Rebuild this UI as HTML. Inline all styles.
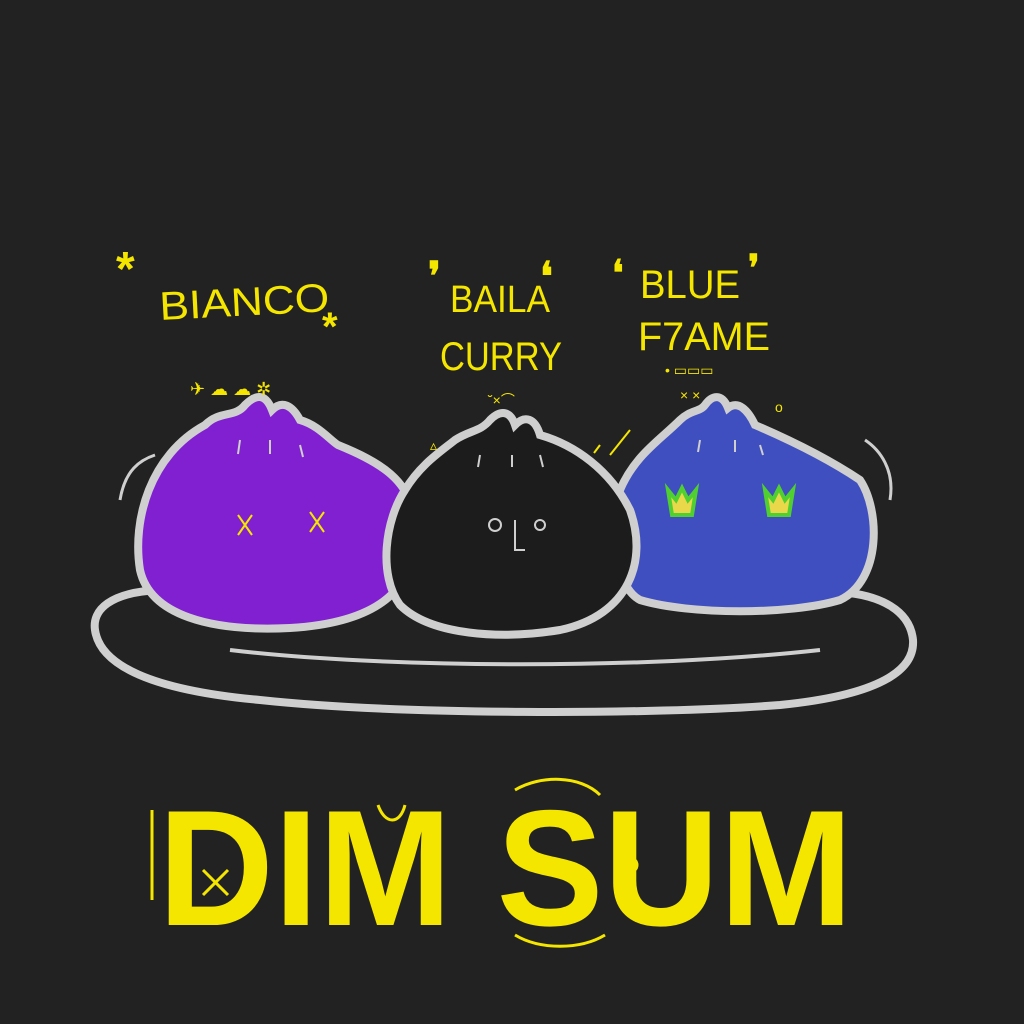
<!DOCTYPE html>
<html><head><style>
html,body{margin:0;padding:0;background:#222222;}
svg{display:block}
text{font-family:"Liberation Sans",sans-serif;fill:#f5e600}
</style></head><body>
<svg width="1024" height="1024" viewBox="0 0 1024 1024" xmlns="http://www.w3.org/2000/svg">
<rect width="1024" height="1024" fill="#222222"/>
<!-- plate -->
<path d="M160 590 C110 592 92 610 95 630 C100 665 150 690 260 700 C400 715 650 715 780 705 C880 695 915 670 913 640 C910 610 880 595 840 592" fill="none" stroke="#cfcfcf" stroke-width="8"/>
<path d="M230 650 C380 668 640 670 820 650" fill="none" stroke="#cfcfcf" stroke-width="4"/>
<!-- purple dumpling -->
<path d="M205 425 C220 410 235 418 245 405 C255 395 265 392 272 410 C282 400 292 405 300 420 C318 425 330 440 338 445 C380 462 410 480 415 520 C420 580 390 622 290 628 C210 632 150 615 140 570 C132 520 150 455 205 425 Z" fill="#8020d0" stroke="#cfcfcf" stroke-width="8"/>
<!-- blue dumpling -->
<path d="M680 420 C690 410 700 412 705 405 C712 395 722 393 728 408 C738 400 748 410 755 425 C790 440 830 460 860 480 C880 510 882 580 840 600 C790 615 690 615 640 600 C612 585 610 520 620 490 C635 455 660 440 680 420 Z" fill="#3f4fbf" stroke="#cfcfcf" stroke-width="8"/>
<!-- black dumpling -->
<path d="M455 440 C470 430 480 432 490 420 C500 410 510 410 515 425 C525 415 535 418 540 435 C575 445 610 470 630 510 C648 560 630 615 560 630 C500 640 430 635 400 605 C378 575 385 520 405 490 C420 465 440 452 455 440 Z" fill="#1c1c1c" stroke="#cfcfcf" stroke-width="8"/>
<!-- face lines -->
<g stroke="#cfcfcf" stroke-width="2" fill="none">
<path d="M240 440 l-2 14 M270 440 l0 14 M300 445 l3 12"/>
<path d="M480 455 l-2 12 M512 455 l0 12 M540 455 l3 12"/>
<path d="M700 440 l-2 12 M735 440 l0 12 M760 445 l3 10"/>
<circle cx="495" cy="525" r="6"/><circle cx="540" cy="525" r="5"/>
<path d="M515 520 l0 30 l10 0"/>
<path d="M120 500 C125 470 140 460 155 455" stroke-width="3"/>
<path d="M890 500 C895 470 880 450 865 440" stroke-width="3"/>
</g>
<g stroke="#f5e600" stroke-width="2" fill="none">
<path d="M238 515 l14 20 M252 515 l-14 20 M310 512 l14 20 M324 512 l-14 20"/>
<path d="M600 445 l-6 8 M630 430 l-20 25"/>
</g>
<!-- green flames -->
<g fill="#e8d84a" stroke="#4fd030" stroke-width="4">
<path d="M668 490 l8 10 l6-12 l6 12 l8-10 l-4 25 l-20 0 Z"/>
<path d="M765 490 l8 10 l6-12 l6 12 l8-10 l-4 25 l-20 0 Z"/>
</g>
<!-- labels -->
<text x="160" y="320" font-size="40" transform="rotate(-3 160 318)" textLength="170" lengthAdjust="spacingAndGlyphs">BIANCO</text>
<text x="116" y="285" font-size="48" font-weight="bold">*</text>
<text x="322" y="340" font-size="40" font-weight="bold">*</text>
<text x="450" y="312" font-size="38" textLength="100" lengthAdjust="spacingAndGlyphs">BAILA</text>
<text x="440" y="370" font-size="40" textLength="122" lengthAdjust="spacingAndGlyphs">CURRY</text>
<text x="640" y="298" font-size="40" textLength="100" lengthAdjust="spacingAndGlyphs">BLUE</text>
<text x="638" y="350" font-size="40" textLength="132" lengthAdjust="spacingAndGlyphs">F7AME</text>
<text x="428" y="290" font-size="40" font-weight="bold">❜</text>
<text x="540" y="290" font-size="40" font-weight="bold">❛</text>
<text x="612" y="285" font-size="36" font-weight="bold">❛</text>
<text x="748" y="280" font-size="36" font-weight="bold">❜</text>
<text x="488" y="405" font-size="14">˘×⌒</text>
<text x="190" y="395" font-size="18">✈ ☁ ☁ ✲</text>
<text x="665" y="375" font-size="14">• ▭▭▭</text>
<text x="680" y="400" font-size="14">×    ×</text>
<text x="775" y="412" font-size="14">o</text>
<text x="430" y="450" font-size="14">▵</text>
<!-- DIM SUM -->
<text x="158" y="925" font-size="165" font-weight="bold" textLength="695" lengthAdjust="spacingAndGlyphs">DIM SUM</text>
<g stroke="#f5e600" stroke-width="3" fill="none">
<path d="M152 810 l0 90"/>
<path d="M203 870 l25 25 M228 870 l-25 25"/>
<path d="M378 805 C385 825 400 825 405 805"/>
<path d="M515 790 C540 775 580 775 600 795"/>
<path d="M515 935 C540 950 580 950 605 935"/>
<circle cx="630" cy="865" r="7"/>
</g>
</svg>
</body></html>
